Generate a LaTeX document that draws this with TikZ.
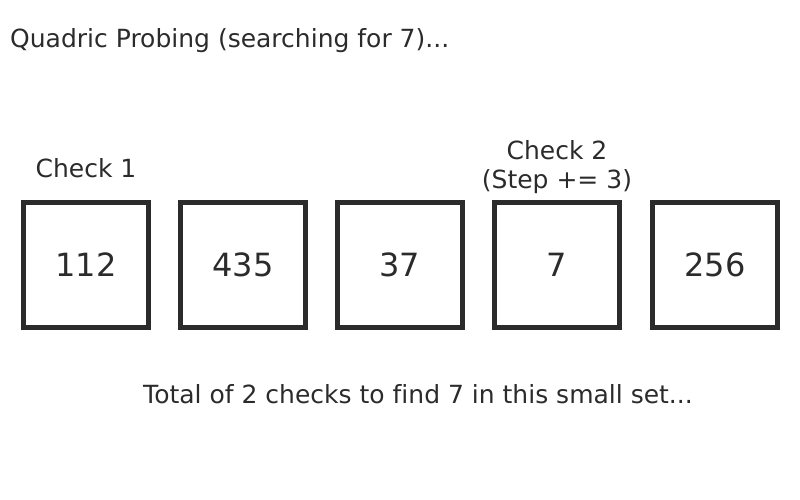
\documentclass[tikz,border=0pt]{standalone}
\usepackage{fontspec}
\setmainfont{DejaVu Sans}[Ligatures=NoCommon]
\usetikzlibrary{positioning}
\definecolor{ink}{HTML}{2B2B2B}

\tikzset{
  slot/.style={draw=ink, line width=5pt, minimum size=125pt, inner sep=0pt,
    text=ink, font=\fontsize{32}{38}\selectfont},
  caption/.style={text=ink, inner sep=0pt, font=\fontsize{25}{29}\selectfont}
}

\begin{document}
\begin{tikzpicture}[x=1pt,y=-1pt]

%% canvas
\useasboundingbox (0,0) rectangle (800,500);

% title
\node[caption, anchor=base west] (title) at (10,48) {Quadric Probing (searching for 7)...};

% table slots
\node[slot] (s1) at (86,265) {112};
\node[slot] (s2) at (243,265) {435};
\node[slot] (s3) at (400,265) {37};
\node[slot] (s4) at (557,265) {7};
\node[slot] (s5) at (715,265) {256};

% checks
\node[caption, anchor=base] (check1) at (86,177) {Check 1};
\node[caption, anchor=base, align=center] (check2) at (557,188) {Check 2\\(Step += 3)};

% summary
\node[caption, anchor=base] (total) at (418,403) {Total of 2 checks to find 7 in this small set...};

\end{tikzpicture}
\end{document}
